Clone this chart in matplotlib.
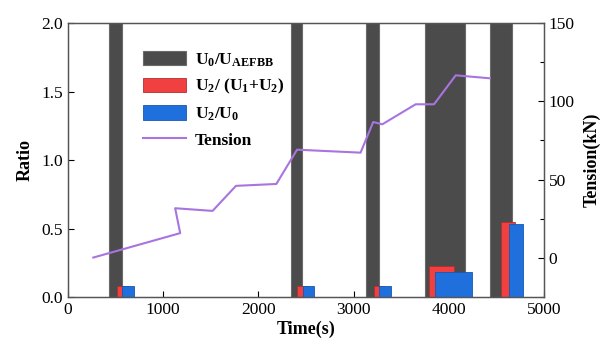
import matplotlib
matplotlib.use("Agg")
import matplotlib.pyplot as plt
from matplotlib.ticker import MultipleLocator

plt.rcParams['font.family'] = ['Liberation Serif', 'DejaVu Serif']
plt.rcParams['mathtext.fontset'] = 'custom'
plt.rcParams['mathtext.rm'] = 'Liberation Serif:bold'
plt.rcParams['mathtext.it'] = 'Liberation Serif:bold'
plt.rcParams['mathtext.bf'] = 'Liberation Serif:bold'

# U0/UAEFBB bands (left edge, width, ratio)
dark_left = [432, 2347, 3126, 3747, 4432]
dark_width = [136, 116, 137, 421, 231]
dark_height = [2.0, 2.0, 2.0, 2.0, 2.0]

# U2/(U1+U2)
red_left = [516, 2410, 3210, 3789, 4547]
red_width = [110, 110, 110, 264, 148]
red_height = [0.08, 0.08, 0.08, 0.226, 0.55]

# U2/U0
blue_left = [568, 2474, 3263, 3853, 4632]
blue_width = [127, 115, 126, 389, 147]
blue_height = [0.08, 0.08, 0.08, 0.18, 0.53]

# Tension line
t_time = [266, 1179, 1126, 1519, 1765, 2189, 2407, 3074, 3207, 3302, 3653, 3846, 4074, 4432]
t_tension = [0.2, 15.8, 31.7, 30.0, 46.0, 47.2, 69.1, 67.2, 86.8, 85.3, 98.1, 98.1, 116.6, 114.7]

fig = plt.figure(figsize=(6.07, 3.49), dpi=100)
ax = fig.add_axes([0.112, 0.149, 0.784, 0.785])
ax2 = ax.twinx()

b1 = ax.bar(dark_left, dark_height, width=dark_width, align='edge',
            color='#4b4b4b', edgecolor='#6a6a6a', linewidth=0.8, zorder=1,
            label=r'U$_\mathrm{0}$/U$_\mathrm{AEFBB}$')
b2 = ax.bar(red_left, red_height, width=red_width, align='edge',
            color='#f04040', edgecolor='#b03030', linewidth=0.6, zorder=2,
            label=r'U$_\mathrm{2}$/ (U$_\mathrm{1}$+U$_\mathrm{2}$)')
b3 = ax.bar(blue_left, blue_height, width=blue_width, align='edge',
            color='#1f6fdc', edgecolor='#1858b0', linewidth=0.6, zorder=3,
            label=r'U$_\mathrm{2}$/U$_\mathrm{0}$')
l1, = ax2.plot(t_time, t_tension, color='#a874e0', linewidth=1.5, label='Tension')

ax.set_xlim(0, 5000)
ax.set_ylim(0, 2.0)
ax2.set_ylim(-25, 150)
ax.xaxis.set_major_locator(MultipleLocator(1000))
ax.yaxis.set_major_locator(MultipleLocator(0.5))
ax2.yaxis.set_major_locator(MultipleLocator(50))
ax2.yaxis.set_minor_locator(MultipleLocator(25))

for a in (ax, ax2):
    a.tick_params(direction='in', labelsize=12.5, length=4, width=0.8)
    a.tick_params(which='minor', direction='in', length=3, width=0.8)
    for s in a.spines.values():
        s.set_color('#555555')
        s.set_linewidth(0.9)

ax.set_xlabel('Time(s)', fontsize=13, fontweight='bold', labelpad=2)
ax.set_ylabel('Ratio', fontsize=13, fontweight='bold', labelpad=6)
ax2.set_ylabel('Tension(kN)', fontsize=13, fontweight='bold', labelpad=6)

leg = ax2.legend([b1, b2, b3, l1], [b1.get_label(), b2.get_label(), b3.get_label(), 'Tension'],
                 loc='upper left', bbox_to_anchor=(0.125, 0.955), frameon=False,
                 prop={'weight': 'bold', 'size': 12.5}, handlelength=2.5,
                 handleheight=0.9, labelspacing=0.5, handletextpad=0.5)

fig.savefig('out.png', dpi=100)
